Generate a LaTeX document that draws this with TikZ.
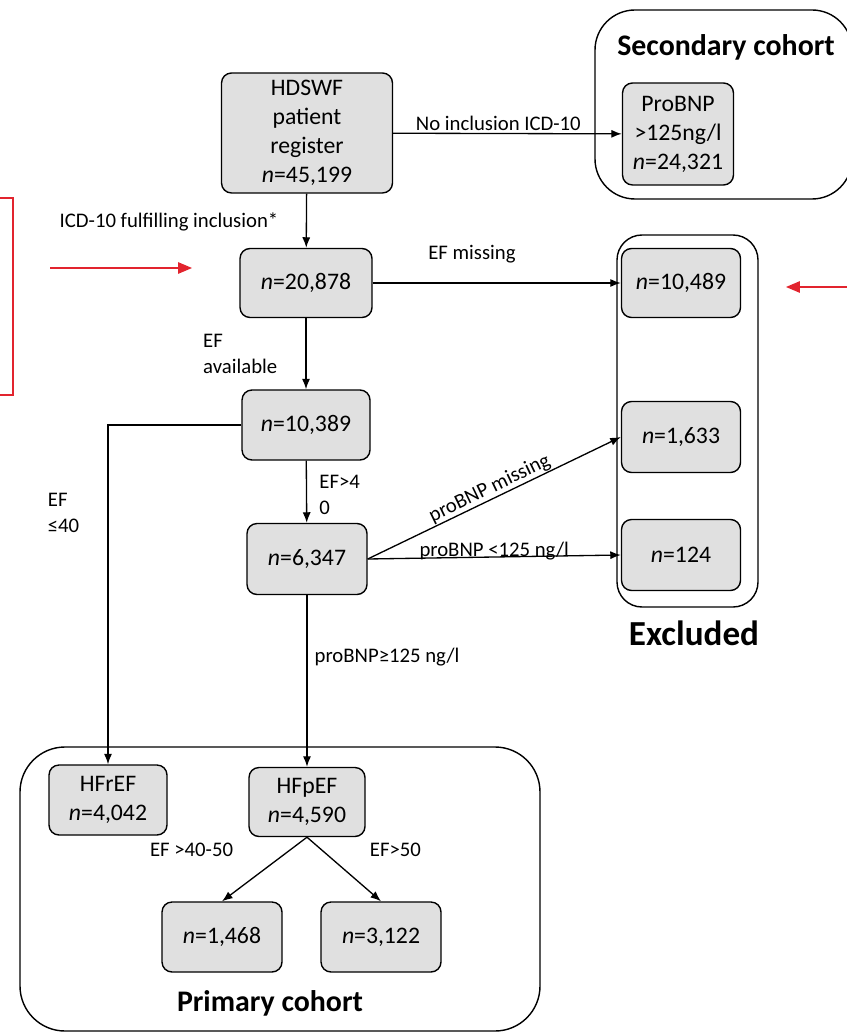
\documentclass[tikz,border=0pt]{standalone}
\usepackage{fontspec}
\setmainfont{Carlito}
\usetikzlibrary{
	positioning				% relative placement
	, arrows				% arrow tips
	, arrows.meta			% sized Latex tips
}

\begin{document}
\begin{tikzpicture}[
				x=0.02cm, y=-0.02cm,
				element/.style={
					rectangle,
					rounded corners=0.2cm,
					draw=black, line width=0.8pt,
					fill=black!12,
					minimum width=2.4cm,
					minimum height=1.4cm,
					inner sep=1pt,
					align=center,
					font=\fontsize{13.5}{16.5}\selectfont
				},
				cohort/.style={
					draw=black, line width=0.8pt,
					rounded corners=0.8cm
				},
				title/.style={
					font=\fontsize{17}{20}\selectfont\bfseries
				},
				lbl/.style={
					inner sep=1pt,
					align=left,
					font=\fontsize{11.8}{15}\selectfont
				},
				arrow/.style={
					->,
					line width=0.75pt
				},
				redarrow/.style={
					-triangle 45,
					thick,
					draw=alert
				},
				>={Latex[length=6pt,width=4.6pt]}]

			\definecolor{alert}{RGB}{226,36,46}
			\useasboundingbox (0,0) rectangle (846,1033);

			%%% Cohort frames
			\draw [cohort] (595,10) rectangle (852,199);
			\draw [cohort, rounded corners=0.5cm] (617,235) rectangle (758,607);
			\draw [cohort, rounded corners=0.9cm] (20,747) rectangle (540,1031);
			\node [title] (titleSecondary) at (726,47) {Secondary cohort};
			\node [title, font=\fontsize{20}{24}\selectfont\bfseries] (titleExcluded) at (694,633) {Excluded};
			\node [title] (titlePrimary) at (270,1003) {Primary cohort};

			%%% Flow of patients
			\node [element, minimum width=3.42cm, minimum height=2.4cm] (register) at (307,133) {HDSWF\\patient\\register\\\textit{n}=45,199};
			\node [element, minimum width=2.64cm, minimum height=1.38cm] (n20878) at (306,283) {\textit{n}=20,878};
			\node [element, minimum width=2.56cm] (n10389) at (306,425) {\textit{n}=10,389};
			\node [element, minimum height=1.42cm] (n6347) at (307,559) {\textit{n}=6,347};
			\node [element, minimum width=2.36cm] (hfref) at (108,800) {HFrEF\\\textit{n}=4,042};
			\node [element, minimum width=2.32cm, minimum height=1.38cm] (hfpef) at (307,802) {HFpEF\\\textit{n}=4,590};
			\node [element] (n1468) at (222,937) {\textit{n}=1,468};
			\node [element] (n3122) at (381,937) {\textit{n}=3,122};

			% secondary and excluded
			\node [element, minimum width=2.22cm, minimum height=2.04cm] (probnp) at (678,134) {ProBNP\\>125ng/l\\\textit{n}=24,321};
			\node [element, minimum width=2.38cm, minimum height=1.38cm] (n10489) at (681,283) {\textit{n}=10,489};
			\node [element, minimum width=2.38cm, minimum height=1.42cm] (n1633) at (681,437) {\textit{n}=1,633};
			\node [element, minimum width=2.38cm, minimum height=1.42cm] (n124) at (681,555) {\textit{n}=124};

			\path [arrow] (register) edge node[lbl, above, pos=0.46] {No inclusion ICD-10} (probnp);
			\path [arrow] (register) edge (n20878);
			\node [lbl] (lblInclusion) at (169,222) {ICD-10 fulfilling inclusion*};
			\path [arrow] (n20878) edge node[lbl, above=10pt, pos=0.4] {EF missing} (n10489);
			\path [arrow] (n20878) edge node[lbl, left=15pt, pos=0.5] {EF\\available} (n10389);
			\draw [arrow] (n10389.west) -| node[lbl, pos=0.63, left=15pt] {EF\\≤40} (hfref.north);
			\path [arrow] (n10389) edge node[lbl, right=6pt, pos=0.55] {EF>4\\0} (n6347);
			\path [arrow] (n6347.east) edge node[lbl, above=-0.5pt, sloped, pos=0.5] {proBNP missing} (n1633.west);
			\path [arrow] (n6347.east) edge node[lbl, above=-3pt, pos=0.5] {proBNP <125 ng/l} (n124.west);
			\path [arrow] (n6347) edge node[lbl, right=3pt, pos=0.36] {proBNP≥125 ng/l} (hfpef);
			\path [arrow] (hfpef.south) edge node[lbl, pos=0.2, left=31pt] {EF >40-50} (n1468.north);
			\path [arrow] (hfpef.south) edge node[lbl, pos=0.2, right=26pt] {EF>50} (n3122.north);

			%%% Red markers at the margins
			\coordinate (bracketTop) at (-5,198);
			\coordinate (bracketBottom) at (-5,395);
			\draw [alert, semithick] (bracketTop) -- ++(18,0) |- (bracketBottom);
			\coordinate (markLeftStart) at (50,268);
			\coordinate (markLeftEnd) at (192,268);
			\coordinate (markRightStart) at (850,287);
			\coordinate (markRightEnd) at (786,287);
			\draw [redarrow] (markLeftStart) -- (markLeftEnd);
			\draw [redarrow] (markRightStart) -- (markRightEnd);

		\end{tikzpicture}
\end{document}
